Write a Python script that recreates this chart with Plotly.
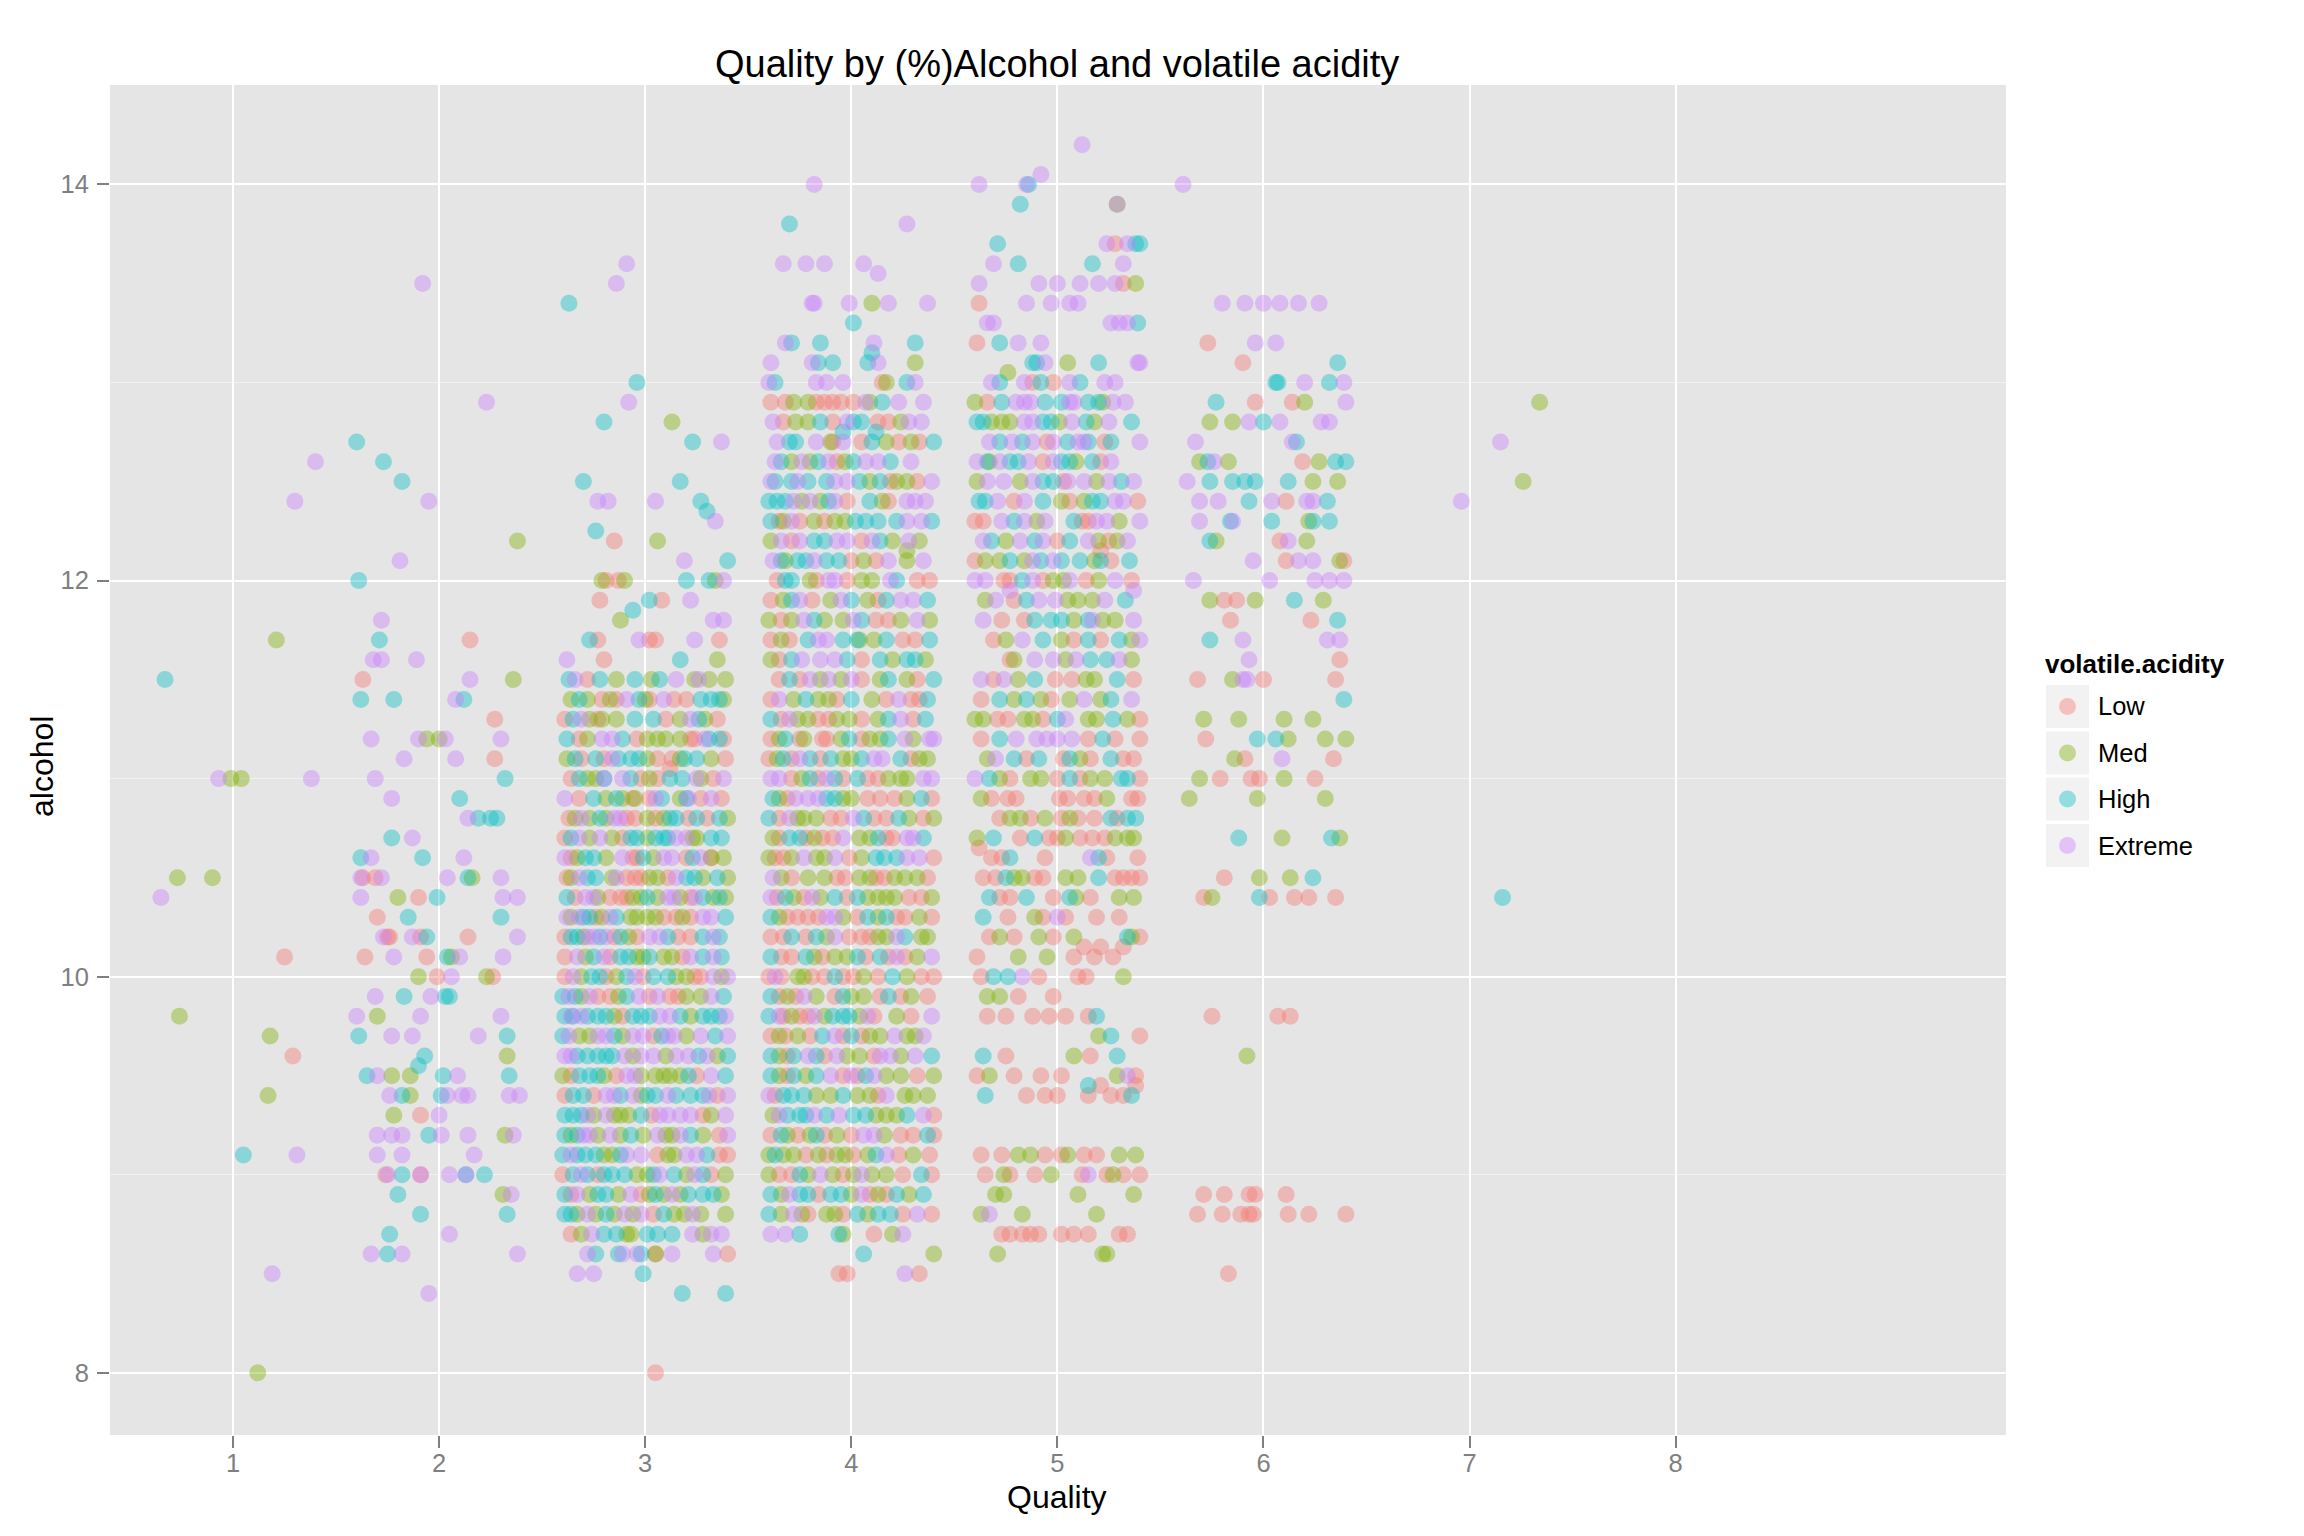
import plotly.graph_objects as go

# wine quality groups sit at x = 1..7, points jittered inside +-0.4
# each row: alcohol value, category letters (L/M/H/E) and jitter offsets
# (hundredths from the left edge of the group band)

q3_alc = [12.6, 12.4, 11.7, 11.5, 11.0, 10.5, 10.4, 10.1, 9.8, 9.7, 9.6, 9.4, 9.1, 8.5, 8.0]
q3_cat = ["E", "E", "M", "H", "EMME", "MM", "E", "L", "M", "M", "L", "M", "HE", "E", "M"]
q3_jit = ["80", "70", "61", "07", "33 39 44 78", "13 30", "05", "65", "14", "58", "69", "57", "45 71", "59", "52"]

q4_alc = [13.5, 12.9, 12.7, 12.6, 12.5, 12.4, 12.2, 12.1, 12.0, 11.8, 11.7, 11.6, 11.5, 11.4,
          11.3, 11.2, 11.1, 11.0, 10.9, 10.8, 10.7, 10.6, 10.5, 10.4, 10.3, 10.2, 10.1, 10.0,
          9.9, 9.8, 9.7, 9.6, 9.55, 9.5, 9.4, 9.3, 9.2, 9.1, 9.0, 8.9, 8.8, 8.7, 8.6, 8.4]
q4_cat = ["E", "E", "H", "H", "H", "E", "M", "E", "H", "E", "HL", "EEE", "LEM", "HHEH",
          "L", "EEMMEE", "EEL", "EH", "EH", "EHHH", "HE", "HEHE", "ELLEEHME", "EMLHEE", "LHH", "ELLELHLE", "LELHMEE", "MLEML",
          "EHEHH", "EMEE", "HEEEH", "HM", "H", "HEMMHEH", "EHMHEEEEE", "MLE", "EEEHEEME", "EEE", "LEHLEEHEH", "HME", "HH", "HE", "EHEE", "E"]
q4_jit = ["32", "63", "00", "13", "22", "35", "78", "21", "01", "12", "11 55", "08 12 29", "03 55 76", "02 18 48 52",
          "67", "07 30 34 40 43 70", "23 48 67", "09 72", "17 50", "54 59 65 68", "17 27", "02 07 32 52",
          "02 03 09 12 44 54 56 70", "02 20 30 39 71 78", "10 25 70", "13 15 16 27 31 34 54 78",
          "04 18 34 44 46 50 71", "30 39 46 63 66",
          "09 23 36 43 45", "00 10 31 70", "01 17 27 59 73", "33 73", "30", "05 10 17 26 42 49 74",
          "16 22 26 41 44 51 54 74 79", "18 31 40", "10 17 22 35 41 54 72 76", "10 22 57",
          "14 15 22 31 31 45 53 53 62", "20 71 75", "31 73", "16 45", "07 15 22 78", "35"]

q5_alc = [13.6, 13.5, 13.4, 13.0, 12.9, 12.8, 12.7, 12.5, 12.4, 12.35, 12.3, 12.25, 12.2, 12.1,
          12.0, 11.9, 11.85, 11.8, 11.7, 11.6, 11.5, 11.4, 11.3, 11.2, 11.1, 11.05, 11.0, 10.9,
          10.8, 10.7, 10.6, 10.5, 10.4, 10.3, 10.2, 10.1, 10.0, 9.9, 9.8, 9.7, 9.6, 9.5,
          9.4, 9.3, 9.2, 9.1, 9.0, 8.9, 8.8, 8.7, 8.6, 8.5, 8.4, 8.0]
q5_cat = ["E", "E", "H", "H", "E", "HM", "HE", "HH", "EEEH", "H", "E", "H", "LM", "EH",
          "MLLMHHME", "LHLE", "H", "MEE", "HLELLEL", "ELHM", "HEHMMHMEMMLHE", "MHMLMLHMLELLHHMEH",
          "HMLMHHMLEMHLMEL", "LMEHMMMLLHLHELMEH", "HLHLHHMLLMHHLMEHM", "L", "LMHEEHLHEMLHMLMHE",
          "ELHMLMLEHMHELMHEL", "LMEMHMELLMLMHLHLHEHM", "HEMMHHHHEMMHHLELMHE",
          "ELMHMELLHEELHMLMHME", "LMHMELLMLEHMHMEHLMH", "EEMLLMHMEMLEHMHLMEHML",
          "EMEHLMHMMMMLLMEHHELE", "HHEEEHLEHLHEHLMHLMEL", "LEHELHMMHMMEHEHMHL",
          "LEHLMHLHMMLEEMHEHLM", "EMLLHLELMMEHHHEMEL", "HEHHHLHHEHMHHEEHMHEH",
          "EMMEMEEHEMEHEHEHLE", "EHHHHEEEMEEHMHEHME", "MLHHMLEMMMMLEHHEMH", "LHLEHEHHEHHLEHEMHE",
          "HHMEMMLEEELMEHEMHE", "HMEMEMMEMEMLEHEHMH", "HHHMEELMMEHLLEHMHE", "LHHLHHMEHMHMEHMHEL",
          "HEMHMLMMEHHMLHEHMH", "HMMMEELMMMMHEHMHE", "LMHMMHHHEMEEHE", "EHHEEHLMEEL", "EEH", "HH", "L"]
q5_jit = ["31", "26", "03", "36", "32", "20 53", "63 77", "10 57", "17 22 45 67", "70", "74", "16", "25 46", "59 80",
          "19 21 27 30 60 71 74 78", "18 42 48 62", "34", "28 73 78", "13 17 37 42 45 64 76", "02 20 57 75",
          "03 06 18 26 43 47 64 66 71 79 12 35 55", "04 08 12 19 23 26 37 40 42 49 54 60 72 76 78 31 67",
          "05 13 17 19 35 66 69 01 09 26 44 50 57 62 75", "08 12 19 29 46 50 57 62 64 76 78 02 24 36 41 69 71",
          "06 09 16 20 27 33 41 46 53 57 59 65 79 02 24 37 72", "52",
          "04 12 20 20 29 33 46 58 65 67 73 08 16 38 42 52 78", "01 08 15 29 34 35 42 45 48 57 60 61 67 21 26 72 77",
          "03 06 09 13 18 21 25 31 35 41 45 49 55 61 65 70 76 28 52 80",
          "04 08 13 24 33 36 49 51 55 63 65 72 77 01 18 29 41 45 60",
          "01 04 07 15 21 29 34 36 39 49 53 60 63 72 72 78 11 44 67",
          "02 04 12 24 26 31 38 46 51 55 60 68 75 80 08 16 35 42 64",
          "11 15 17 23 28 34 41 46 51 57 62 64 68 73 02 06 38 54 76 79 31",
          "02 04 08 13 16 19 26 33 36 41 45 49 55 58 68 79 10 23 62 72",
          "04 07 12 15 21 28 36 42 51 56 68 73 76 01 10 18 25 32 47 62",
          "01 07 15 20 23 28 36 39 42 49 53 62 68 73 77 11 32 58",
          "01 05 14 21 26 31 39 51 55 60 67 73 80 09 18 35 44 64 77",
          "03 09 17 23 31 42 46 52 60 67 72 78 00 06 13 27 37 56",
          "01 04 05 12 17 29 38 42 47 57 62 68 76 79 09 21 25 34 52 72",
          "03 08 13 21 29 34 39 48 54 60 67 74 80 00 17 25 44 51",
          "01 07 12 17 24 30 38 44 50 55 61 66 75 80 04 21 34 70",
          "00 04 08 13 20 26 31 38 45 52 57 65 72 79 17 35 49 61",
          "01 05 15 21 28 34 41 45 51 62 68 75 80 10 25 38 55 71",
          "01 09 15 21 28 32 43 51 57 62 68 72 79 05 12 25 38 47",
          "01 04 10 17 23 28 39 46 53 57 68 76 80 07 13 33 50 62",
          "00 07 16 24 31 38 46 51 54 60 70 76 80 04 11 20 28 65",
          "00 05 12 17 24 30 41 47 54 60 68 79 09 20 36 44 64 72",
          "01 07 13 21 27 38 42 49 53 61 68 77 04 17 33 45 57 73",
          "01 07 16 25 30 38 44 54 59 67 79 04 12 21 34 49 63",
          "04 09 20 31 33 41 46 53 63 68 77 14 26 72",
          "12 16 27 29 36 38 45 45 53 73 80", "07 15 39", "58 79", "45"]

q6_alc = [14.0, 13.8, 13.6, 13.55, 13.4, 13.3, 13.2, 13.15, 13.1, 13.0, 12.9, 12.8, 12.75, 12.7,
          12.6, 12.5, 12.4, 12.3, 12.2, 12.15, 12.1, 12.0, 11.9, 11.8, 11.7, 11.6, 11.5, 11.4,
          11.3, 11.2, 11.1, 11.0, 10.9, 10.8, 10.7, 10.6, 10.5, 10.4, 10.3, 10.2, 10.1, 10.0,
          9.9, 9.8, 9.7, 9.6, 9.5, 9.4, 9.3, 9.2, 9.1, 9.0, 8.9, 8.8, 8.7, 8.6, 8.5]
q6_cat = ["E", "HE", "EEEE", "E", "EEEMEE", "H", "EHHEH", "H", "EEHHHEM", "EHEEELMHE", "LLMLLLLEMEMLHE",
          "LMLEHHLMEEMHLE", "HH", "HHEMLELHMMLHEL", "EMEHEMHEEHMLEH", "EHHEHHEEHMLMMLEH", "HHHEEMELHMLEEMHE",
          "LMLMMHHHEEHHEMLH", "MEEHEELHMEMLHE", "M", "HMHEHHLEMEHMLE", "LHMLELMEHLLHEM", "LMELHMHEEHHMEL",
          "MLMEMMHLMEMHEL", "LHEHMHLHMLEHML", "MHEEHHMLEHLMH", "LEEMLMHMHHLMEL", "LMMLMLLHEHMHEL",
          "LMLMLMEHHEMLMHL", "LMHLMLLMHLMMHEMEE", "LHEHLMMHEHMMMLHEL", "EEMHLELHLLMMEELHM",
          "HMEEEHMMLLLHLLHM", "HLMMMLLELLHMLMEH", "HLLEMLLEEHMLHMLMH", "MLMEMMELMHHEELLH",
          "ELMMLLMMLMMMLML", "EHMLMHLMMMLLMLEHM", "HLLLEMLMHLMLMLEHL", "LLLHELLMMHMMHMLE",
          "HLHLMMLHELMELMHL", "LLMLLLMLHMLLEMHL", "HLLEMLHMMLLMLMH", "HELLEMHHELMLEMLHM",
          "MLMLHELLMMEMELHM", "HMHELEMMLEMEHLHE", "HMHMHELLEMMLMLEH", "ELHHMMHMMEMMMHL",
          "MHHEHEHHMMHELEHM", "LHLMLMLEMLLHLMHE", "MMMLMMLMELMLHLMH", "MLLMEMLMMMLHLHE",
          "HMHHLHHEMHMHEMLL", "HMELMMLMHHLELMH", "EEHHMLME", "HM", "LLEL"]
q6_jit = ["22", "10 67", "07 18 27 46", "53", "21 22 39 50 58 77", "41", "08 11 25 51 71", "50",
          "01 21 24 31 48 53 71", "00 03 23 28 36 55 57 67 71", "01 08 19 23 27 35 41 47 49 75 12 31 55 63",
          "07 19 31 38 41 45 53 64 74 02 13 25 58 68", "36 52", "10 13 23 30 31 36 45 50 57 69 73 80 04 63",
          "03 11 16 24 29 37 41 47 69 06 20 33 53 59", "01 03 11 14 19 28 32 38 44 49 59 62 67 72 79 54",
          "00 04 08 12 20 25 32 38 49 55 58 67 76 16 29 71", "05 07 15 32 37 42 53 62 67 74 79 01 11 22 27 47",
          "01 06 15 22 33 38 45 54 60 68 73 11 27 50", "67", "06 08 14 22 28 34 40 58 67 02 18 46 52 75",
          "04 11 20 23 32 38 50 59 62 72 78 08 29 45", "01 07 15 21 40 48 57 64 70 77 11 30 35 53",
          "00 06 11 17 27 36 45 52 64 72 78 22 41 58", "01 19 28 43 44 57 71 78 06 10 24 36 51 65",
          "01 11 25 32 54 67 76 05 16 38 45 60 71", "05 20 29 35 45 54 58 67 80 10 15 25 40 72",
          "01 12 24 33 50 57 69 77 05 18 29 40 63 73", "06 14 24 33 45 53 64 76 01 10 19 29 39 58 70",
          "01 05 08 15 17 26 28 35 39 45 49 54 58 66 70 78 80",
          "00 07 15 20 25 36 40 45 55 64 73 77 04 11 30 51 69",
          "01 05 16 20 24 28 36 43 48 53 64 67 75 79 11 32 58",
          "02 05 13 19 24 28 36 40 48 54 61 74 79 09 32 67",
          "00 05 14 17 23 30 35 41 51 57 63 68 75 80 10 46",
          "10 18 26 36 49 57 60 67 70 75 02 05 15 22 31 44 53",
          "00 03 11 17 23 27 32 39 45 52 62 67 73 80 07 56",
          "02 11 19 27 33 37 44 49 56 61 66 72 77 06 52",
          "01 08 12 17 25 32 38 48 53 61 68 74 79 04 21 43 57",
          "01 09 14 24 28 36 43 53 57 66 73 79 05 19 32 48 62",
          "01 07 18 23 32 39 45 53 57 66 74 77 11 28 49 62",
          "01 06 18 26 32 38 47 54 62 66 72 79 11 22 43 58",
          "00 06 14 21 27 36 46 53 60 67 74 80 03 17 32 41",
          "01 05 13 17 23 32 36 40 46 54 64 69 77 09 58",
          "00 05 07 15 22 27 36 39 48 51 62 69 79 11 19 31 44",
          "05 08 14 20 26 32 36 45 49 54 61 67 75 01 40 71",
          "01 05 12 19 27 33 38 44 51 54 64 71 79 09 23 59",
          "01 05 12 18 23 30 36 43 51 57 64 72 80 09 40 47",
          "00 03 11 17 23 30 36 43 49 57 66 70 77 07 53",
          "02 09 15 22 28 34 41 47 52 62 67 75 80 05 18 57",
          "01 06 14 20 27 33 40 46 56 64 70 77 80 09 23 51",
          "00 07 12 18 24 33 41 48 57 63 70 78 03 28 37 52",
          "00 05 11 19 25 31 36 41 50 57 65 74 79 15 45",
          "01 06 15 19 24 30 35 45 53 62 68 75 10 40 49 57",
          "00 06 12 19 28 32 36 48 53 59 65 72 79 16 43",
          "01 08 15 34 36 51 60 65", "46 80", "34 38 66 73"]

q7_alc = [14.2, 14.05, 14.0, 13.9, 13.7, 13.6, 13.5, 13.4, 13.3, 13.2, 13.1, 13.05, 13.0, 12.9,
          12.8, 12.7, 12.6, 12.5, 12.4, 12.3, 12.2, 12.15, 12.1, 12.0, 11.95, 11.9, 11.8, 11.7,
          11.6, 11.5, 11.4, 11.3, 11.2, 11.1, 11.0, 10.9, 10.8, 10.7, 10.65, 10.6, 10.5, 10.4,
          10.3, 10.2, 10.15, 10.1, 10.0, 9.9, 9.8, 9.7, 9.6, 9.5, 9.45, 9.4, 9.1, 9.0, 8.9, 8.8, 8.7, 8.6]
q7_cat = ["E", "E", "EEH", "HME", "HELEHH", "EHHE", "EEEEEELM", "LEEEE", "EEEEEH", "LHEE", "HHEMHEE", "M",
          "EHELHLEHEE", "MLEEEHHEEHHMEHE", "HHMMMEHMEHMHEHE", "EHEHLEHEEHLHEE", "HMEHHELEHMHEEHL",
          "MEEMEHLEEMHEHE", "HHELHMLMHEELEH", "LLEEMEHLLEMEHE", "EHMEHELHEMLEM", "L", "LMMHMHEHHMHHEL",
          "EELLELMELMELHM", "EE", "MEEEMMMHLHE", "LLHHHMHEMEEM", "LMHMLHMEEHL", "LMEEMEHHEM", "ELMHLLMMHLE",
          "LHHMLMEMHEM", "MMLLMMLHEMMHML", "LHEEEEELLLH", "MEHLHLHMLHLL", "EHMLMMLHLMMHHL",
          "MLLLLLLLMLL", "LMMLMLMLLHLHH", "MHLHLLMLLLMMM", "L", "LLHLEHLL", "LLHMMLLMMHLLLL",
          "HLLHLHMLMM", "HLMLELLL", "LMLMLMHML", "LLL", "LMMLLL", "LHHELLLM", "MMLL", "LLLLLLH",
          "MHL", "HLMLH", "LMLLLMEL", "HLL", "HLLLLLLH", "LLMMLLMLLMM", "LMLLMLELMLL", "MMMM",
          "MEMM", "LLLLLLLLLL", "MMM"]
q7_jit = ["52", "32", "02 25 26", "22 69 69", "11 64 68 74 78 80", "09 21 57 72",
          "02 31 40 51 60 68 72 78", "02 25 37 46 50", "06 09 66 70 74 79", "01 12 21 32",
          "28 30 34 45 60 79 80", "16", "08 12 24 28 32 38 46 51 63 68",
          "00 06 20 24 27 34 42 46 48 55 60 62 73 13 67", "01 04 08 13 17 24 33 41 47 54 58 76 28 37 65",
          "07 12 18 23 35 38 45 50 53 55 63 66 80 28", "06 07 12 17 21 26 33 38 42 49 57 66 01 46 61",
          "01 06 14 22 28 33 43 45 53 59 71 77 38 65", "02 05 11 19 33 42 46 53 57 68 72 79 24 61",
          "00 04 13 24 30 34 48 52 55 59 70 80 19 64", "04 08 15 22 29 33 40 46 55 60 65 74 69", "61",
          "00 05 12 17 24 32 38 42 51 58 61 75 28 66", "00 05 14 17 28 33 43 46 54 60 68 76 23 38", "17 77",
          "05 10 31 39 45 50 57 73 19 25 63", "13 24 29 37 42 48 55 57 68 77 04 62",
          "09 15 33 42 48 70 76 80 23 55 61",
          "17 19 29 38 44 49 56 64 70 76", "03 09 21 29 39 47 54 58 69 77 14",
          "03 12 25 32 37 46 53 61 66 76 19", "00 04 11 16 24 28 33 40 44 55 59 67 74 80",
          "03 12 20 30 35 40 47 68 80 55 62", "06 10 19 25 31 43 46 51 56 66 72 77",
          "00 07 12 17 27 32 40 46 51 56 63 71 74 80", "03 08 16 20 41 45 53 58 64 76 79",
          "12 17 22 27 34 42 46 50 58 66 69 74 78", "01 09 22 29 36 40 44 51 57 63 68 74 77", "02",
          "08 13 17 34 56 60 64 79", "04 10 15 19 23 29 33 44 50 60 68 72 76 80",
          "07 12 17 25 38 46 49 56 70 77", "04 16 29 33 40 44 59 70", "07 12 19 31 38 48 74 76 80",
          "53 61 72", "01 21 35 48 58 67", "03 09 16 23 31 50 54 72", "06 12 21 38",
          "06 15 28 36 44 55 59", "60 66 80", "04 15 48 56 69", "01 07 19 32 42 69 74 78", "55 61 78",
          "05 25 34 40 55 66 72 76", "03 13 21 27 34 42 45 53 59 70 78",
          "05 14 17 29 37 52 55 64 67 72 80", "10 14 50 77", "03 07 23 59",
          "13 17 23 27 31 42 48 55 70 74", "11 62 64"]

q8_alc = [14.0, 13.4, 13.2, 13.1, 13.0, 12.9, 12.8, 12.7, 12.6, 12.5, 12.4, 12.3, 12.2, 12.1,
          12.0, 11.9, 11.8, 11.7, 11.6, 11.5, 11.4, 11.3, 11.2, 11.1, 11.0, 10.9, 10.7, 10.5,
          10.4, 9.8, 9.6, 8.9, 8.8, 8.5]
q8_cat = ["E", "EEEEEE", "LEE", "LH", "HHEHE", "HLLME", "MMEHEEE", "EEH", "MHEMLMHH", "EHHHHHMM",
          "EEHELEEH", "EHEHMHH", "HMLEM", "ELEEML", "EEEEE", "MLLMHM", "LLH", "HEEE", "EL", "LMEELL",
          "H", "MMMM", "LHHMMM", "MLEL", "MLLLML", "MMM", "HMHM", "LMMH", "LMHLLLL", "LLL", "M",
          "LLLLL", "LLLLLLLL", "L"]
q8_jit = ["01", "20 31 40 48 57 67", "13 36 46", "30 76", "46 47 60 72 79", "17 36 54 60 80",
          "14 25 33 40 48 68 72", "07 54 56", "09 13 16 23 59 67 75 80", "03 14 25 31 36 52 64 76",
          "09 18 33 44 51 61 64 71", "09 24 25 44 62 64 72", "14 17 48 52 61", "35 51 57 64 77 79",
          "06 43 65 72 79", "14 21 27 36 55 69", "24 63 76", "14 30 71 77", "33 77",
          "08 25 30 32 40 75", "79", "11 28 50 64", "12 37 46 52 70 80", "26 31 49 74",
          "09 19 34 38 50 65", "04 37 70", "28 49 73 77", "21 38 53 64", "11 15 38 43 55 62 75",
          "15 47 53", "32", "11 21 33 36 51", "08 20 29 33 35 52 62 80", "23"]

q9_alc = [12.9, 12.7, 12.5, 12.4, 10.4]
q9_cat = ["M", "E", "M", "E", "H"]
q9_jit = ["74", "55", "66", "36", "56"]

groups = [(1, q3_alc, q3_cat, q3_jit), (2, q4_alc, q4_cat, q4_jit), (3, q5_alc, q5_cat, q5_jit),
          (4, q6_alc, q6_cat, q6_jit), (5, q7_alc, q7_cat, q7_jit), (6, q8_alc, q8_cat, q8_jit),
          (7, q9_alc, q9_cat, q9_jit)]

levels = ["Low", "Med", "High", "Extreme"]
codes = {"L": "Low", "M": "Med", "H": "High", "E": "Extreme"}
colors = {"Low": "#F8766D", "Med": "#7CAE00", "High": "#00BFC4", "Extreme": "#C77CFF"}

xs = {lv: [] for lv in levels}
ys = {lv: [] for lv in levels}
for pos, alc, cat, jit in groups:
    for a, c, j in zip(alc, cat, jit):
        offs = j.split()
        if len(offs) != len(c):
            print("row mismatch", pos, a, len(c), len(offs))
        for ch, o in zip(c, offs):
            xs[codes[ch]].append(pos - 0.4 + int(o) / 100)
            ys[codes[ch]].append(a)

FONT = "Liberation Sans, Arial, sans-serif"
GREY = "#7F7F7F"

fig = go.Figure()
for lv in levels:
    fig.add_trace(go.Scatter(x=xs[lv], y=ys[lv], mode="markers", name=lv, showlegend=False,
                             marker=dict(size=17, color=colors[lv], opacity=0.4, line=dict(width=0))))

# plot area in page pixels (left, right, top, bottom); the page body adds an 8px margin
L, R, T, B = 110, 2006, 85, 1435
PAD = 8


def px(x):
    return (x - L) / (R - L)


def py(y):
    return (B - y) / (B - T)


shapes = []
annotations = [
    dict(text="Quality by (%)Alcohol and volatile acidity", x=px(1057), y=py(64), xref="paper", yref="paper",
         xanchor="center", yanchor="middle", showarrow=False, font=dict(size=38, color="black", family=FONT)),
    dict(text="Quality", x=px(1057), y=py(1497), xref="paper", yref="paper",
         xanchor="center", yanchor="middle", showarrow=False, font=dict(size=32, color="black", family=FONT)),
    dict(text="alcohol", x=px(42), y=py(767), xref="paper", yref="paper", textangle=-90,
         xanchor="center", yanchor="middle", showarrow=False, font=dict(size=32, color="black", family=FONT)),
    dict(text="<b>volatile.acidity</b>", x=px(2043), y=py(664), xref="paper", yref="paper",
         xanchor="left", yanchor="middle", showarrow=False, font=dict(size=26, color="black", family=FONT)),
]
key_rows = [706.5, 753, 799, 845.5]
for lv, yc in zip(levels, key_rows):
    shapes.append(dict(type="rect", xref="paper", yref="paper", x0=px(2046), x1=px(2089),
                       y0=py(yc + 21.5), y1=py(yc - 21.5), fillcolor="#F2F2F2", line=dict(width=0), layer="below"))
    shapes.append(dict(type="circle", xref="paper", yref="paper", xsizemode="pixel", ysizemode="pixel",
                       xanchor=px(2067.5), yanchor=py(yc), x0=-8.5, x1=8.5, y0=-8.5, y1=8.5,
                       fillcolor=colors[lv], opacity=0.4, line=dict(width=0)))
    annotations.append(dict(text=lv, x=px(2096), y=py(yc), xref="paper", yref="paper", xanchor="left",
                            yanchor="middle", showarrow=False, font=dict(size=25.5, color="black", family=FONT)))

fig.update_layout(
    width=2304 - PAD, height=1536 - PAD,
    margin=dict(l=L - PAD, r=2304 - R, t=T - PAD, b=1536 - B),
    paper_bgcolor="white", plot_bgcolor="#E5E5E5",
    font=dict(family=FONT),
    shapes=shapes, annotations=annotations,
    xaxis=dict(range=[0.403, 9.603], tickvals=[1, 2, 3, 4, 5, 6, 7, 8], showgrid=True, gridcolor="white",
               gridwidth=2, zeroline=False, showline=False, ticks="outside", ticklen=12, tickwidth=2,
               tickcolor=GREY, tickfont=dict(size=25.5, color=GREY, family=FONT), ticklabelstandoff=-7),
    yaxis=dict(range=[7.686, 14.502], tickvals=[8, 10, 12, 14], showgrid=True, gridcolor="white",
               gridwidth=2, zeroline=False, showline=False, ticks="outside", ticklen=12, tickwidth=2,
               tickcolor=GREY, tickfont=dict(size=25.5, color=GREY, family=FONT), ticklabelstandoff=3,
               minor=dict(tickmode="array", tickvals=[9, 11, 13], showgrid=True, gridcolor="#F2F2F2",
                          gridwidth=1, ticks="")),
)

fig.write_html("out.html")
